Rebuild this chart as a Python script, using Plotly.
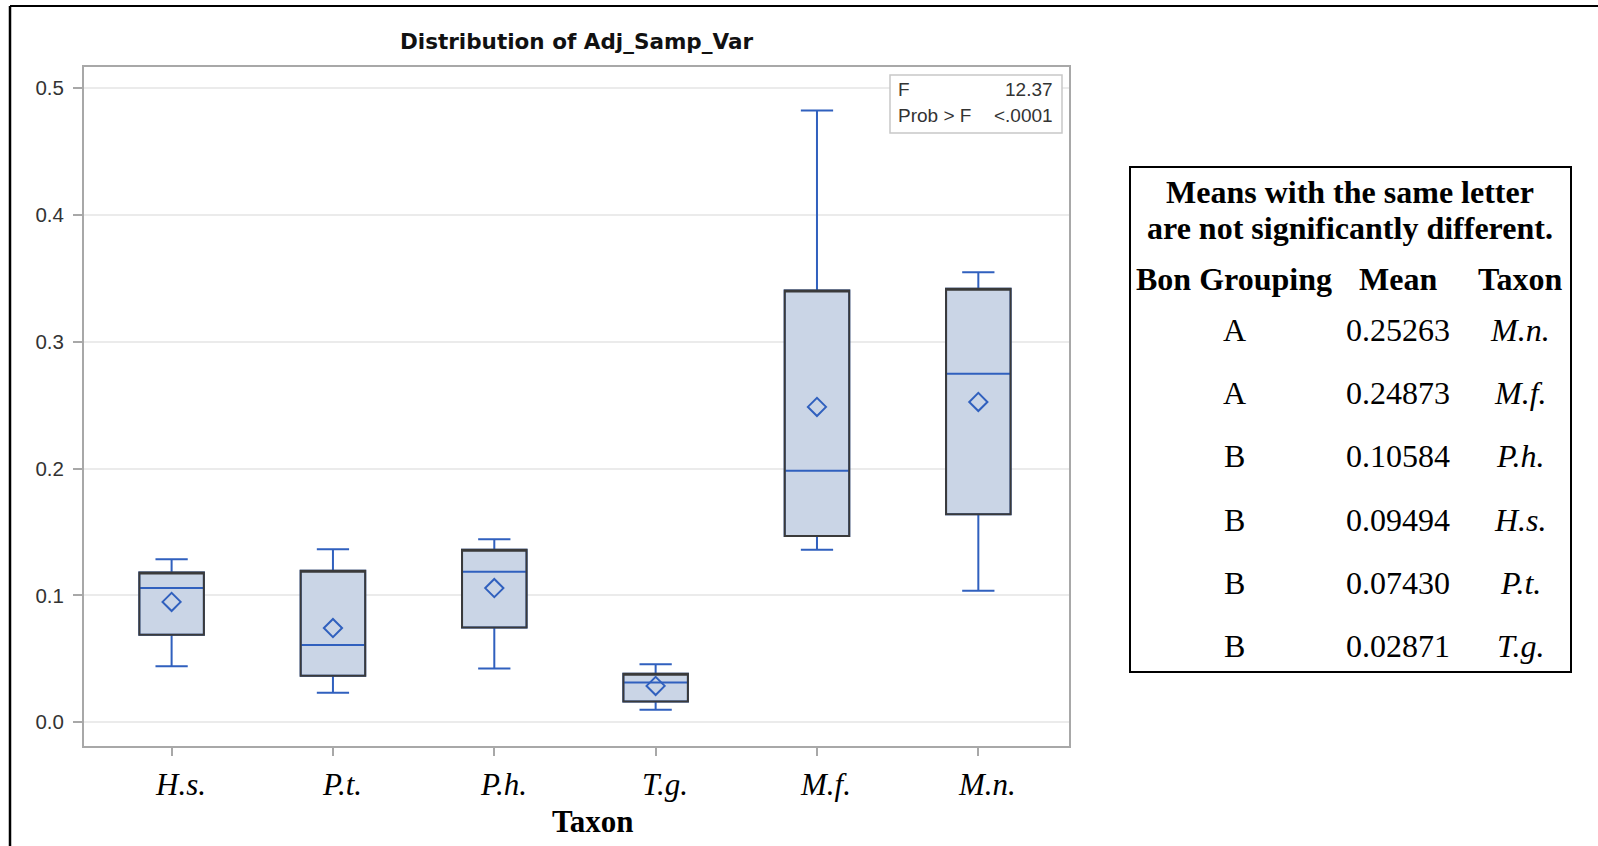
import plotly.graph_objects as go

# ---- data -------------------------------------------------------------
taxa = ["H.s.", "P.t.", "P.h.", "T.g.", "M.f.", "M.n."]
lower_whisker = [0.0441, 0.0232, 0.0424, 0.0098, 0.1360, 0.1037]
q1 = [0.0690, 0.0368, 0.0747, 0.0163, 0.1470, 0.1641]
median = [0.1060, 0.0610, 0.1188, 0.0313, 0.1983, 0.2748]
q3 = [0.1181, 0.1196, 0.1360, 0.0382, 0.3405, 0.3420]
upper_whisker = [0.1285, 0.1365, 0.1444, 0.0458, 0.4824, 0.3550]

# Bonferroni grouping table (sorted by mean)
bon_group = ["A", "A", "B", "B", "B", "B"]
bon_mean = [0.25263, 0.24873, 0.10584, 0.09494, 0.07430, 0.02871]
bon_taxon = ["M.n.", "M.f.", "P.h.", "H.s.", "P.t.", "T.g."]

f_value = "12.37"
prob_f = "<.0001"

# group means taken from the grouping table
mean_lookup = dict(zip(bon_taxon, bon_mean))
group_mean = [mean_lookup[t] for t in taxa]

# ---- layout geometry (pixels) ----------------------------------------
W, H = 1598, 846
L, R, T, B = 84, 1069, 67, 746


def px(x):
    return (x - L) / (R - L)


def py(y):
    return (B - y) / (B - T)


BLUE = "#3060BE"
FILL = "#CAD5E6"
EDGE = "#3A3A3A"

fig = go.Figure()

# boxes with blue whiskers and median
fig.add_trace(go.Box(
    x=taxa, q1=q1, median=median, q3=q3,
    lowerfence=lower_whisker, upperfence=upper_whisker,
    fillcolor=FILL, line=dict(color=BLUE, width=2),
    whiskerwidth=0.5, width=0.4, boxpoints=False, showlegend=False,
    hoverinfo="skip",
))
# dark box outline drawn on top (whiskers collapsed onto the box edges)
fig.add_trace(go.Box(
    x=taxa, q1=q1, median=q3, q3=q3,
    lowerfence=q1, upperfence=q3,
    fillcolor="rgba(0,0,0,0)", line=dict(color=EDGE, width=2),
    whiskerwidth=1, width=0.4, boxpoints=False, showlegend=False,
    hoverinfo="skip",
))
# mean diamonds
fig.add_trace(go.Scatter(
    x=taxa, y=group_mean, mode="markers",
    marker=dict(symbol="diamond-open", size=14, color=BLUE,
                line=dict(color=BLUE, width=2)),
    showlegend=False, hoverinfo="skip",
))

fig.update_layout(
    width=W, height=H, autosize=False,
    margin=dict(l=L, r=W - R, t=T, b=H - B, pad=0),
    paper_bgcolor="white", plot_bgcolor="white",
    boxmode="overlay",
    title=dict(text="<b>Distribution of Adj_Samp_Var</b>",
               x=0.5, xref="paper", xanchor="center",
               y=1 - 41 / H, yref="container", yanchor="middle",
               font=dict(family="DejaVu Sans", size=21.5, color="#111111")),
)

fig.update_xaxes(
    type="category", range=[-0.543, 5.562],
    showline=True, mirror=True, linecolor="#A8A8A8", linewidth=2,
    ticks="outside", ticklen=8, tickwidth=2, tickcolor="#A8A8A8",
    showgrid=False, zeroline=False, showticklabels=False,
)
fig.update_yaxes(
    range=[-0.0187, 0.5168], tick0=0, dtick=0.1, tickformat=".1f",
    showline=True, mirror=True, linecolor="#A8A8A8", linewidth=2,
    ticks="outside", ticklen=9, tickwidth=2, tickcolor="#A8A8A8",
    showgrid=True, gridcolor="#EBEBEB", gridwidth=2, zeroline=False,
    tickfont=dict(family="Liberation Sans", size=20.5, color="#333333"),
    ticklabelstandoff=5,
)

shapes = []
annotations = []

# category labels, italic serif, sitting under each tick
for t in taxa:
    annotations.append(dict(text="<i>%s</i>" % t, xref="x", yref="paper",
                            x=t, y=py(784), xanchor="center", yanchor="middle",
                            xshift=9, showarrow=False,
                            font=dict(family="Liberation Serif", size=31, color="black")))

# outer page border (top and left)
shapes.append(dict(type="line", xref="paper", yref="paper",
                   x0=px(10), x1=px(W), y0=py(6), y1=py(6),
                   line=dict(color="black", width=2)))
shapes.append(dict(type="line", xref="paper", yref="paper",
                   x0=px(10), x1=px(10), y0=py(6), y1=py(H),
                   line=dict(color="black", width=2.5)))

# F statistic inset
shapes.append(dict(type="rect", xref="paper", yref="paper",
                   x0=px(890), x1=px(1062), y0=py(75), y1=py(133),
                   line=dict(color="#C8C8C8", width=1.5), fillcolor="white"))
inset_font = dict(family="Liberation Sans", size=19, color="#333333")
for label, value, yy in [("F", f_value, 89), ("Prob > F", prob_f, 116)]:
    annotations.append(dict(text=label, xref="paper", yref="paper",
                            x=px(896), y=py(yy), xanchor="left", yanchor="middle",
                            showarrow=False, font=inset_font))
    annotations.append(dict(text=value, xref="paper", yref="paper",
                            x=px(1055), y=py(yy), xanchor="right", yanchor="middle",
                            showarrow=False, font=inset_font))

# x axis title
annotations.append(dict(text="<b>Taxon</b>", xref="paper", yref="paper",
                        x=px(593), y=py(821), xanchor="center", yanchor="middle",
                        showarrow=False,
                        font=dict(family="Liberation Serif", size=31, color="black")))

# grouping table
shapes.append(dict(type="rect", xref="paper", yref="paper",
                   x0=px(1130), x1=px(1571), y0=py(167), y1=py(672),
                   line=dict(color="black", width=2), fillcolor="rgba(0,0,0,0)"))
tfont = dict(family="Liberation Serif", size=32, color="black")
for text, yy in [("<b>Means with the same letter</b>", 192),
                 ("<b>are not significantly different.</b>", 228)]:
    annotations.append(dict(text=text, xref="paper", yref="paper",
                            x=px(1350), y=py(yy), xanchor="center", yanchor="middle",
                            showarrow=False, font=tfont))
col_x = [1234, 1398, 1520]
for text, cx in zip(["Bon Grouping", "Mean", "Taxon"], col_x):
    annotations.append(dict(text="<b>%s</b>" % text, xref="paper", yref="paper",
                            x=px(cx), y=py(279), xanchor="center", yanchor="middle",
                            showarrow=False, font=tfont))
for i, (g, m, t) in enumerate(zip(bon_group, bon_mean, bon_taxon)):
    yy = 330 + i * 63.2
    for text, cx in zip([g, "%.5f" % m, "<i>%s</i>" % t], col_x):
        annotations.append(dict(text=text, xref="paper", yref="paper",
                                x=px(cx), y=py(yy), xanchor="center", yanchor="middle",
                                showarrow=False, font=tfont))

fig.update_layout(shapes=shapes, annotations=annotations)

fig.write_html("out.html")
